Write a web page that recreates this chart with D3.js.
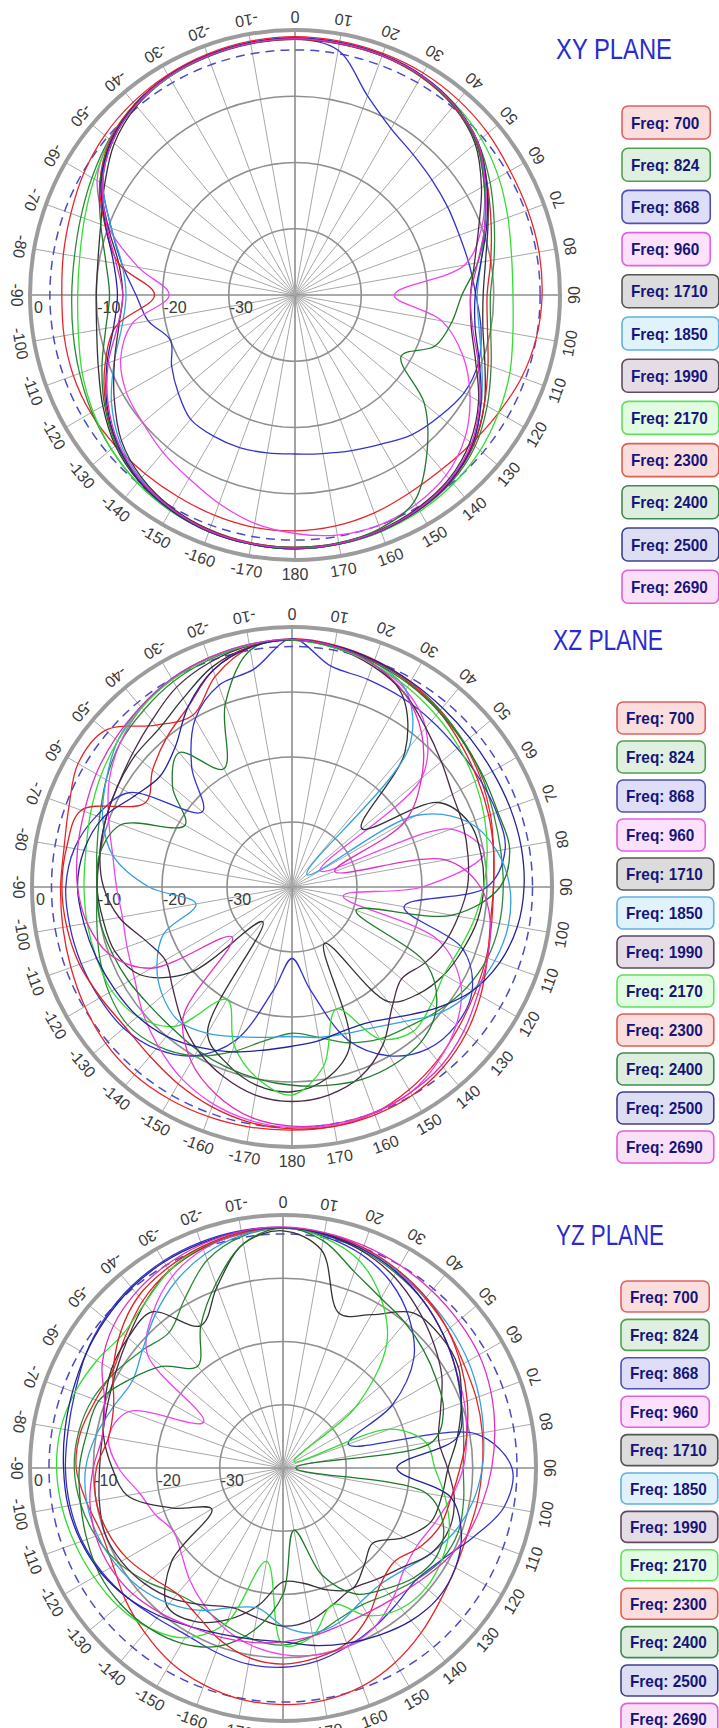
<!DOCTYPE html>
<html>
<head>
<meta charset="utf-8">
<script src="https://cdn.jsdelivr.net/npm/d3@7"></script>
<style>
  body { margin: 0; background: #ffffff; }
  svg { display: block; }
</style>
</head>
<body>
<div id="chart"></div>
<script>
// ---------------- data ----------------
// angle of every sample, degrees clockwise from the top (0 .. 350)
const angles = d3.range(0, 360, 10);
const angleLabels = angles.map(a => (a <= 180 ? a : a - 360));

const freqs = [700, 824, 868, 960, 1710, 1850, 1990, 2170, 2300, 2400, 2500, 2690];
const lineColors = ["#e8262a", "#2e8a3a", "#3333cc", "#ee44ee", "#333333", "#33a0e0",
                    "#4a2a4a", "#33dd33", "#dd2222", "#1f7a2a", "#222299", "#e030c0"];
const boxFills = ["#fadede", "#e0f0e0", "#dedef8", "#fce0fc", "#dcdcdc", "#e0f2fc",
                  "#e4dde6", "#e2fce2", "#fadede", "#deeede", "#dedef2", "#fae0f6"];
const boxStrokes = ["#e06060", "#50a050", "#5050b0", "#e060e0", "#555555", "#60b0e0",
                    "#604a60", "#60e060", "#e06050", "#408a50", "#404090", "#e060d0"];

const ringLevels = [0, -10, -20, -30];
const refLevel = -3;

// gain in dB, one array per frequency (same order as freqs)
const xyPlane = [
  [-1.0,-1.1,-1.2,-1.3,-1.6,-2.0,-2.5,-2.6,-2.6,-2.7,-3.0,-3.6,-4.5,-5.2,-5.6,-5.5,-5.0,-4.6,-4.4,-4.4,-4.6,-4.8,-4.8,-4.6,-4.4,-4.4,-4.6,-4.8,-4.5,-4.0,-3.2,-2.5,-2.0,-1.6,-1.3,-1.1],
  [-1.3,-1.4,-1.5,-1.8,-2.6,-4.0,-6.0,-8.0,-9.5,-10.5,-10.0,-8.5,-6.5,-4.5,-3.2,-2.5,-2.0,-1.8,-1.7,-1.8,-2.0,-2.4,-3.0,-3.8,-4.6,-5.4,-6.0,-6.3,-6.2,-5.6,-4.6,-3.4,-2.4,-1.8,-1.5,-1.4],
  [-1.3,-2.5,-8.0,-11.0,-12.3,-13.0,-13.4,-13.6,-13.3,-12.7,-11.5,-10.5,-10.5,-11.5,-12.5,-14.0,-15.0,-15.7,-16.0,-15.8,-15.5,-15.4,-15.5,-17.0,-18.5,-20.0,-17.5,-16.0,-13.5,-10.5,-6.5,-3.8,-2.4,-1.8,-1.5,-1.4],
  [-1.2,-1.3,-1.5,-1.8,-2.6,-4.2,-7.0,-10.0,-14.0,-25.0,-17.5,-13.0,-9.5,-6.5,-4.5,-3.5,-3.0,-3.2,-4.0,-5.0,-6.5,-8.0,-9.0,-10.0,-10.6,-12.0,-15.0,-21.0,-16.0,-10.0,-5.5,-3.5,-2.5,-1.8,-1.5,-1.3],
  [-1.3,-1.4,-1.5,-1.8,-2.6,-4.0,-6.5,-9.0,-10.8,-11.6,-11.2,-9.5,-7.0,-4.8,-3.4,-2.6,-2.1,-1.8,-1.7,-1.8,-2.0,-2.5,-3.3,-4.6,-6.5,-8.4,-9.6,-10.0,-9.8,-8.8,-6.8,-4.4,-2.8,-2.0,-1.6,-1.4],
  [-1.3,-1.4,-1.5,-1.8,-2.6,-4.2,-7.0,-9.5,-11.5,-12.5,-11.8,-10.0,-7.5,-5.0,-3.6,-2.8,-2.2,-1.9,-1.8,-1.9,-2.2,-2.8,-3.8,-5.5,-8.0,-11.0,-13.5,-14.5,-13.5,-10.5,-6.5,-4.0,-2.6,-1.9,-1.6,-1.4],
  [-1.4,-1.5,-1.6,-1.9,-2.8,-4.5,-7.5,-10.5,-12.5,-13.5,-13.0,-11.0,-8.0,-5.5,-3.8,-2.9,-2.3,-2.0,-1.9,-2.0,-2.3,-2.9,-4.0,-5.8,-8.5,-11.0,-13.0,-14.0,-13.0,-10.0,-6.2,-4.0,-2.6,-2.0,-1.7,-1.5],
  [-1.3,-1.4,-1.5,-1.8,-2.4,-3.3,-4.5,-5.8,-6.8,-7.1,-6.6,-5.5,-4.5,-3.5,-2.8,-2.3,-2.0,-1.8,-1.7,-1.8,-2.0,-2.4,-3.0,-3.8,-4.8,-5.8,-6.8,-7.2,-7.0,-6.2,-5.0,-3.6,-2.6,-2.0,-1.6,-1.4],
  [-1.4,-1.5,-1.6,-2.0,-2.8,-4.2,-6.5,-8.5,-10.0,-11.0,-10.5,-9.0,-7.0,-4.8,-3.4,-2.6,-2.1,-1.9,-1.9,-2.0,-2.2,-2.7,-3.6,-5.0,-7.0,-9.5,-12.5,-18.8,-13.0,-9.5,-6.0,-3.6,-2.4,-1.8,-1.5,-1.4],
  [-1.3,-1.4,-1.5,-1.9,-2.7,-4.3,-7.0,-9.5,-12.0,-14.8,-16.0,-17.5,-21.5,-14.5,-9.0,-4.0,-2.5,-2.0,-1.9,-1.9,-2.1,-2.6,-3.4,-4.8,-6.8,-9.0,-11.0,-12.0,-11.0,-8.8,-6.0,-3.8,-2.5,-1.9,-1.6,-1.4],
  [-1.2,-1.3,-1.4,-1.7,-2.5,-4.0,-6.6,-9.2,-11.5,-12.8,-12.4,-10.4,-7.6,-5.0,-3.4,-2.6,-2.1,-1.8,-1.7,-1.8,-2.0,-2.5,-3.4,-5.0,-7.2,-9.8,-12.2,-13.2,-12.2,-9.6,-6.2,-3.8,-2.5,-1.8,-1.5,-1.3],
  [-1.3,-1.4,-1.5,-1.8,-2.6,-4.0,-6.8,-9.5,-12.0,-13.5,-12.8,-10.6,-7.8,-5.2,-3.6,-2.7,-2.2,-1.9,-1.8,-1.9,-2.1,-2.7,-3.6,-5.2,-7.4,-10.0,-12.8,-14.0,-12.6,-9.8,-6.4,-4.0,-2.6,-1.9,-1.6,-1.4]
];

const xzPlane = [
  [-1.8,-2.2,-2.8,-3.6,-4.5,-5.5,-6.5,-7.5,-8.5,-9.0,-8.8,-8.2,-7.5,-6.5,-5.2,-4.0,-3.0,-2.6,-2.6,-2.5,-2.4,-2.3,-2.3,-2.6,-3.2,-3.8,-4.2,-4.4,-4.4,-3.5,-2.0,-2.5,-7.5,-9.5,-5.5,-2.6],
  [-2.0,-2.3,-3.0,-3.8,-4.6,-5.4,-6.2,-7.0,-7.4,-7.5,-7.6,-8.0,-9.0,-10.5,-12.0,-13.0,-14.5,-16.5,-17.5,-16.0,-13.0,-10.0,-8.0,-7.0,-7.5,-8.5,-9.5,-10.0,-9.5,-8.5,-7.0,-5.5,-4.5,-3.5,-2.8,-2.2],
  [-1.8,-5.5,-6.0,-6.3,-6.6,-6.8,-6.7,-6.5,-6.7,-10.0,-22.5,-12.0,-8.0,-7.0,-7.5,-10.0,-15.0,-24.0,-29.0,-24.0,-15.0,-10.0,-7.5,-6.2,-5.8,-5.5,-5.3,-5.2,-6.0,-8.0,-11.0,-22.0,-16.0,-10.2,-7.0,-6.0],
  [-2.0,-2.5,-3.5,-5.0,-8.0,-14.0,-35.0,-14.0,-10.0,-20.0,-32.0,-16.0,-10.0,-7.0,-5.0,-3.5,-3.0,-2.8,-3.0,-3.5,-4.5,-6.0,-8.0,-10.0,-12.0,-13.0,-13.5,-13.0,-12.0,-10.0,-7.5,-5.5,-4.0,-3.0,-2.5,-2.1],
  [-1.9,-2.5,-3.5,-6.0,-13.0,-26.0,-14.0,-11.0,-10.5,-10.5,-11.0,-12.0,-13.0,-14.5,-17.0,-30.0,-14.0,-10.0,-8.5,-9.0,-11.0,-14.0,-33.0,-19.5,-13.0,-11.0,-10.5,-10.0,-10.0,-9.5,-9.0,-8.5,-8.2,-6.5,-4.0,-2.5],
  [-1.9,-2.4,-3.2,-5.0,-12.0,-37.0,-18.0,-11.0,-8.0,-6.5,-6.2,-6.8,-8.0,-10.0,-13.0,-15.0,-16.0,-16.5,-17.0,-16.5,-15.5,-14.0,-13.0,-14.0,-16.0,-19.0,-25.0,-18.0,-12.0,-9.0,-7.0,-5.0,-3.8,-3.0,-2.5,-2.1],
  [-2.0,-2.6,-3.8,-5.5,-8.0,-10.0,-11.5,-12.0,-12.5,-13.0,-14.0,-15.0,-16.5,-18.0,-16.0,-12.0,-9.0,-7.5,-7.0,-7.5,-9.0,-11.0,-13.5,-16.0,-17.5,-16.0,-13.0,-11.0,-10.0,-9.5,-9.0,-8.0,-6.5,-4.5,-3.2,-2.3],
  [-2.0,-2.6,-3.5,-4.5,-5.5,-6.5,-7.5,-8.5,-9.5,-10.5,-11.5,-12.5,-13.0,-12.0,-11.0,-13.0,-20.0,-12.0,-8.0,-10.0,-14.0,-20.0,-12.0,-9.0,-8.0,-8.0,-8.0,-8.0,-7.8,-7.0,-6.0,-5.0,-4.0,-3.2,-2.6,-2.2],
  [-1.9,-2.3,-3.0,-3.8,-4.8,-6.0,-7.0,-7.8,-8.5,-9.0,-9.0,-8.0,-6.5,-5.0,-3.8,-3.0,-2.7,-2.6,-2.8,-3.2,-4.0,-5.0,-6.0,-6.5,-6.0,-5.2,-4.8,-4.6,-4.8,-5.5,-14.0,-12.0,-10.0,-8.0,-4.5,-2.5],
  [-2.0,-2.5,-3.2,-4.0,-4.8,-5.5,-6.0,-6.3,-6.0,-8.0,-15.0,-29.5,-16.0,-11.0,-9.0,-8.5,-8.5,-9.0,-9.5,-10.0,-10.5,-11.0,-11.5,-11.5,-11.0,-10.5,-10.0,-10.0,-10.0,-12.0,-21.0,-16.0,-13.0,-19.0,-10.0,-3.0],
  [-1.9,-2.3,-2.9,-3.5,-4.0,-4.3,-4.4,-4.3,-4.2,-4.3,-4.8,-6.0,-8.0,-11.0,-14.0,-16.0,-16.5,-16.0,-15.5,-14.5,-13.0,-11.5,-10.0,-9.0,-8.5,-8.0,-7.5,-7.0,-7.5,-9.0,-12.0,-13.5,-12.0,-8.0,-4.5,-2.6],
  [-1.9,-2.4,-3.5,-5.5,-9.0,-14.0,-20.0,-33.0,-16.0,-11.0,-9.0,-8.0,-7.0,-5.5,-4.2,-3.5,-3.1,-3.0,-3.2,-4.0,-6.0,-9.0,-14.0,-28.0,-15.0,-10.0,-8.0,-7.0,-6.5,-6.0,-5.2,-4.5,-3.8,-3.0,-2.5,-2.1]
];

const yzPlane = [
  [-2.0,-2.4,-3.0,-4.0,-5.0,-6.0,-7.0,-7.5,-8.0,-8.5,-8.8,-9.0,-8.5,-7.5,-6.0,-4.5,-3.3,-2.7,-2.6,-2.8,-3.5,-4.5,-6.0,-7.5,-9.0,-9.5,-8.5,-7.3,-7.5,-8.5,-9.0,-7.5,-5.5,-4.0,-3.0,-2.4],
  [-2.1,-2.6,-3.4,-4.4,-5.5,-7.0,-8.5,-10.0,-11.0,-11.5,-11.0,-10.5,-11.0,-12.5,-14.0,-15.0,-14.5,-13.0,-12.0,-12.5,-13.5,-14.5,-14.0,-12.0,-10.0,-8.5,-7.5,-7.0,-7.2,-8.0,-9.5,-11.0,-12.0,-9.0,-5.0,-2.8],
  [-2.0,-2.8,-4.0,-6.0,-9.0,-13.0,-20.0,-29.0,-9.0,-3.8,-4.5,-8.0,-11.0,-12.5,-12.0,-11.0,-10.0,-9.0,-8.5,-8.5,-9.0,-9.5,-9.0,-8.0,-7.0,-6.2,-5.8,-5.6,-5.5,-5.0,-4.0,-3.2,-2.6,-2.2,-2.0,-1.9],
  [-2.0,-2.4,-3.0,-4.0,-5.5,-7.0,-8.5,-9.5,-10.5,-11.5,-13.0,-14.5,-15.5,-15.0,-13.0,-11.0,-10.0,-10.0,-10.5,-11.5,-13.0,-15.0,-17.0,-19.0,-20.0,-18.5,-17.0,-14.0,-12.0,-14.0,-25.5,-12.0,-8.0,-5.0,-3.2,-2.3],
  [-2.5,-5.0,-14.0,-12.0,-8.0,-7.5,-8.0,-10.0,-12.0,-13.9,-14.5,-15.1,-18.0,-21.5,-20.0,-18.0,-19.5,-21.5,-22.0,-18.0,-14.5,-12.0,-11.5,-17.0,-27.0,-21.5,-15.0,-13.0,-11.2,-10.0,-8.7,-8.0,-7.8,-14.0,-9.5,-4.0],
  [-2.0,-2.5,-3.2,-4.0,-4.8,-5.5,-6.2,-7.0,-7.8,-8.5,-9.5,-11.0,-13.0,-15.0,-16.0,-15.5,-14.0,-13.5,-15.0,-17.5,-16.5,-14.0,-12.0,-10.5,-9.5,-8.8,-8.5,-8.8,-10.0,-11.5,-12.5,-11.0,-8.5,-6.0,-4.0,-2.6],
  [-2.0,-2.5,-3.5,-5.0,-7.0,-9.0,-11.0,-13.5,-15.0,-14.0,-12.5,-12.0,-13.0,-15.5,-17.0,-18.0,-17.0,-15.5,-15.0,-16.0,-16.5,-15.0,-13.0,-11.5,-10.5,-10.0,-10.5,-11.0,-11.0,-10.5,-9.5,-8.0,-6.0,-4.0,-2.9,-2.2],
  [-2.0,-3.0,-5.0,-9.0,-14.5,-25.0,-38.0,-22.0,-17.0,-16.0,-14.0,-12.0,-11.0,-10.5,-11.0,-13.0,-17.0,-13.0,-12.0,-25.0,-14.0,-9.0,-7.0,-6.0,-5.5,-5.0,-4.5,-4.2,-4.3,-5.0,-6.0,-7.0,-6.0,-4.0,-2.8,-2.2],
  [-2.0,-2.3,-2.9,-3.8,-4.8,-6.0,-7.5,-9.0,-10.5,-12.0,-13.0,-13.5,-15.0,-17.0,-16.0,-13.0,-10.5,-9.5,-9.0,-9.5,-11.0,-13.0,-14.0,-13.0,-11.5,-10.5,-10.0,-10.5,-12.0,-11.5,-9.0,-6.5,-4.5,-3.5,-2.7,-2.2],
  [-2.0,-3.5,-7.0,-9.0,-10.0,-11.0,-12.0,-13.0,-16.0,-38.0,-17.0,-13.0,-12.0,-13.0,-15.0,-17.0,-22.0,-30.0,-20.0,-14.0,-10.0,-8.0,-7.0,-6.5,-6.5,-7.0,-7.5,-7.8,-8.5,-9.0,-12.0,-15.0,-19.0,-14.0,-9.0,-4.0],
  [-2.0,-2.4,-3.2,-4.2,-5.5,-7.0,-8.5,-10.0,-12.0,-22.0,-13.0,-10.0,-8.5,-8.0,-8.5,-9.5,-10.5,-11.5,-12.5,-12.5,-12.0,-11.0,-9.5,-8.0,-6.8,-6.0,-5.5,-5.3,-5.0,-4.6,-4.0,-3.4,-2.8,-2.4,-2.2,-2.0],
  [-1.9,-2.2,-2.6,-3.0,-3.4,-3.8,-4.2,-5.0,-6.0,-7.0,-8.0,-9.0,-10.5,-12.0,-13.0,-13.5,-13.5,-13.0,-12.5,-12.0,-11.5,-11.0,-10.0,-9.0,-8.5,-8.5,-9.0,-10.0,-11.0,-10.0,-7.0,-5.0,-3.8,-3.0,-2.4,-2.0]
];

// ---------------- layout ----------------
const width = 719;
const height = 1728;

const planes = [
  { title: "XY PLANE", data: xyPlane, cx: 295, cy: 295, R: 265,
    titleX: 556, titleY: 59, titleW: 116, legX: 622, legY: 106, legStep: 42.2, boxH: 33 },
  { title: "XZ PLANE", data: xzPlane, cx: 292, cy: 887, R: 260,
    titleX: 553, titleY: 650, titleW: 110, legX: 617, legY: 702, legStep: 39, boxH: 32 },
  { title: "YZ PLANE", data: yzPlane, cx: 283, cy: 1468, R: 253,
    titleX: 556, titleY: 1245, titleW: 108, legX: 621, legY: 1281, legStep: 38.4, boxH: 31 }
];

const svg = d3.select("#chart").append("svg")
  .attr("width", width)
  .attr("height", height)
  .style("font-family", "'Liberation Sans', Arial, sans-serif");

svg.append("rect")
  .attr("width", width)
  .attr("height", height)
  .attr("fill", "#ffffff");

const toRad = d3.scaleLinear().domain([0, 360]).range([0, 2 * Math.PI]);

planes.forEach(function(p) {
  const g = svg.append("g")
    .attr("transform", `translate(${p.cx},${p.cy})`);

  // radius scale, -40 dB in the middle, 0 dB on the outer ring
  const r = d3.scaleLinear().domain([-40, 0]).range([0, p.R]);

  //spokes every 10 degrees
  g.selectAll("line.spoke")
    .data(angles)
    .enter()
    .append("line")
    .attr("class", "spoke")
    .attr("x1", 0)
    .attr("y1", 0)
    .attr("x2", d => r(0) * Math.sin(toRad(d)))
    .attr("y2", d => -r(0) * Math.cos(toRad(d)))
    .attr("stroke", d => (d % 90 === 0 ? "#8c8c8c" : "#a8a8a8"))
    .attr("stroke-width", d => (d % 90 === 0 ? 1.6 : 1));

  //inner rings
  g.selectAll("circle.ring")
    .data(ringLevels.filter(v => v < 0))
    .enter()
    .append("circle")
    .attr("class", "ring")
    .attr("r", d => r(d))
    .attr("fill", "none")
    .attr("stroke", "#8f8f8f")
    .attr("stroke-width", 1.6);

  //reference level, dashed
  g.append("circle")
    .attr("r", r(refLevel))
    .attr("fill", "none")
    .attr("stroke", "#4b4bc4")
    .attr("stroke-width", 1.5)
    .attr("stroke-dasharray", "9,6");

  //outer ring
  g.append("circle")
    .attr("r", r(0))
    .attr("fill", "none")
    .attr("stroke", "#9c9c9c")
    .attr("stroke-width", 4);

  //ring labels along the left axis
  g.selectAll("text.level")
    .data(ringLevels)
    .enter()
    .append("text")
    .attr("class", "level")
    .attr("x", d => -r(d) + (d === 0 ? 4 : 1))
    .attr("y", 18)
    .attr("font-size", 16)
    .attr("fill", "#3a3a3a")
    .text(d => d);

  //angle labels, tops of the digits face the centre
  g.selectAll("text.angle")
    .data(angles)
    .enter()
    .append("text")
    .attr("class", "angle")
    .attr("transform", function(d) {
      const a = toRad(d);
      const rr = r(0) + 14;
      return `translate(${rr * Math.sin(a)},${-rr * Math.cos(a)}) rotate(${d + 180})`;
    })
    .attr("text-anchor", "middle")
    .attr("dominant-baseline", "central")
    .attr("font-size", 16)
    .attr("fill", "#3a3a3a")
    .text((d, i) => angleLabels[i]);

  //pattern curves
  const line = d3.lineRadial()
    .angle((d, i) => toRad(angles[i]))
    .radius(d => r(Math.max(-40, d)))
    .curve(d3.curveCatmullRomClosed.alpha(0.5));

  g.selectAll("path.pattern")
    .data(p.data)
    .enter()
    .append("path")
    .attr("class", "pattern")
    .attr("d", d => line(d))
    .attr("fill", "none")
    .attr("stroke", (d, i) => lineColors[i])
    .attr("stroke-width", 1.3);

  //title
  svg.append("text")
    .attr("x", p.titleX)
    .attr("y", p.titleY)
    .attr("font-size", 30)
    .attr("fill", "#2a2ad0")
    .attr("textLength", p.titleW)
    .attr("lengthAdjust", "spacingAndGlyphs")
    .text(p.title);

  //legend boxes
  const leg = svg.append("g")
    .attr("transform", `translate(${p.legX},${p.legY})`);

  freqs.forEach(function(f, i) {
    const item = leg.append("g")
      .attr("transform", `translate(0,${i * p.legStep})`);
    const box = item.append("rect")
      .attr("x", 0)
      .attr("y", 0)
      .attr("height", p.boxH)
      .attr("rx", 6)
      .attr("fill", boxFills[i])
      .attr("stroke", boxStrokes[i])
      .attr("stroke-width", 1.6);
    const label = item.append("text")
      .attr("x", 9)
      .attr("y", p.boxH / 2 + 6)
      .attr("font-size", 16.5)
      .attr("font-weight", "bold")
      .attr("fill", "#16167a")
      .text("Freq: " + f);
    const w = label.node().getComputedTextLength() * 0.93;
    label.attr("textLength", w).attr("lengthAdjust", "spacingAndGlyphs");
    box.attr("width", w + 20);
  });
});
</script>
</body>
</html>
